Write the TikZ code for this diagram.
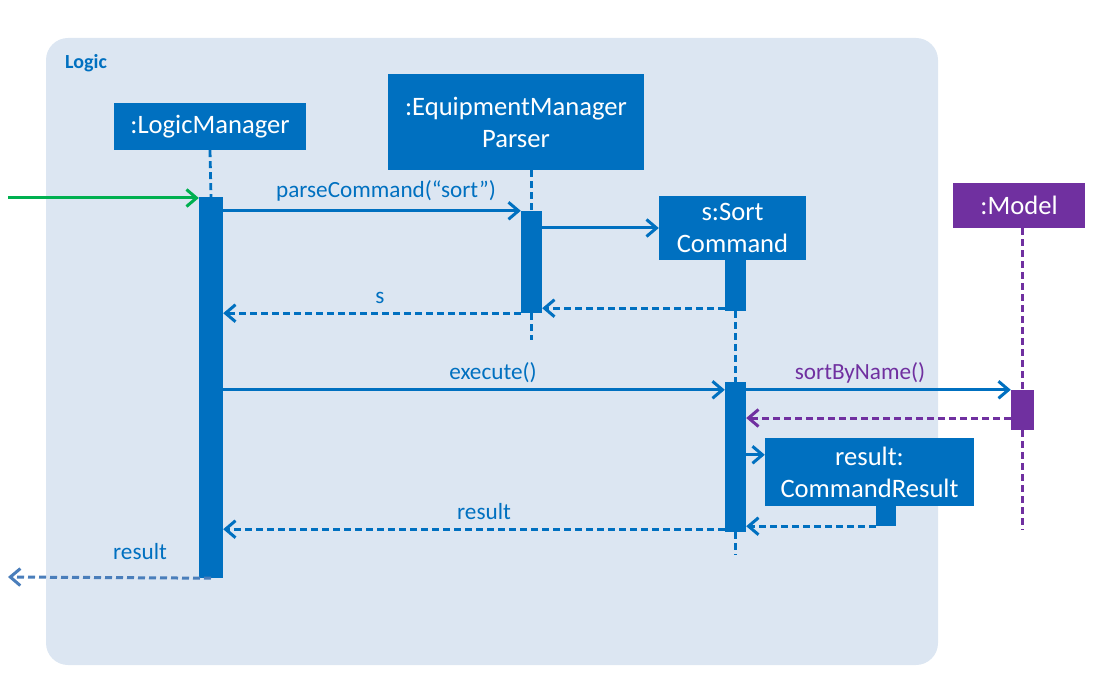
\documentclass[tikz,border=0pt]{standalone}
\usepackage{fontspec}
\setmainfont{Carlito}
\usetikzlibrary{arrows.meta}
\definecolor{ublue}{HTML}{0070C0}
\definecolor{upurple}{HTML}{7030A0}
\definecolor{ubg}{HTML}{DCE6F2}
\definecolor{ugreen}{HTML}{00B050}
\definecolor{ulight}{HTML}{4A7EBB}
\tikzset{
  objbox/.style={fill=ublue, draw=none, text=white, align=center, inner sep=0pt,
     font=\fontsize{26.6}{32}\selectfont},
  actbar/.style={fill=ublue, draw=none, inner sep=0pt, minimum width=21pt},
  lifeln/.style={draw=ublue, line width=2.8pt, dash pattern=on 7pt off 4pt},
  msg/.style={draw=ublue, line width=3pt, -{Straight Barb[length=10pt,width=17pt,line width=3pt]}},
  ret/.style={msg, dash pattern=on 7pt off 4pt},
  lbl/.style={text=ublue, font=\fontsize{23.2}{26}\selectfont, inner sep=0pt},
}
\begin{document}
\begin{tikzpicture}[x=1pt,y=-1pt]
\useasboundingbox (0,0) rectangle (1096,695);
% background frame
\fill[ubg, rounded corners=22pt] (46,38) rectangle (938,665);
\node[anchor=west, text=ublue, font=\fontsize{20}{22}\selectfont\bfseries, inner sep=0pt] (logic) at (65,63) {Logic};

% objects
\node[objbox, minimum width=192pt, minimum height=47pt] (lm) at (210,126.5) {:LogicManager};
\node[objbox, minimum width=256pt, minimum height=96pt] (emp) at (516,122) {:EquipmentManager\\Parser};
\node[objbox, minimum width=147pt, minimum height=64pt] (sc) at (732.5,228) {s:Sort\\Command};
\node[objbox, fill=upurple, minimum width=132pt, minimum height=45pt] (model) at (1019,205.5) {:Model};
\node[objbox, minimum width=209pt, minimum height=68pt] (cr) at (869.5,472) {result:\\CommandResult};

% activation bars
\node[actbar, minimum width=24pt, minimum height=381pt] (lmact) at (211,387.5) {};
\node[actbar, minimum height=102pt] (empact) at (531.5,262) {};
\node[actbar, minimum height=51pt] (scact1) at (735.5,285.5) {};
\node[actbar, minimum height=150pt] (scact2) at (735.5,457) {};
\node[actbar, fill=upurple, minimum width=23pt, minimum height=40pt] (mact) at (1022.5,410) {};
\node[actbar, minimum width=20pt, minimum height=20pt] (cract) at (886,516) {};

% lifelines
\coordinate (empend) at (531.5,340);
\coordinate (scend) at (735.5,555);
\coordinate (mend) at (1022.5,530);
\draw[lifeln] (lm.south) -- (lmact.north);
\draw[lifeln] (empact.north |- emp.south) -- (empact.north);
\draw[lifeln] (empact.south) -- (empend);
\draw[lifeln] (scact1.south) -- (scact2.north);
\draw[lifeln] (scact2.south) -- (scend);
\draw[lifeln, draw=upurple] (mact.north |- model.south) -- (mact.north);
\draw[lifeln, draw=upurple] (mact.south) -- (mend);

% messages
\coordinate (start) at (8,198);
\draw[msg, draw=ugreen] (start) -- (lmact.west |- start);

\draw[msg] (lmact.east |- empact.north) -- (empact.north west);
\node[lbl] (l1) at (386,191) {parseCommand(“sort”)};

\draw[msg] (empact.east |- sc.west) -- (sc.west);

\coordinate (r1) at ([yshift=3pt]scact1.south west);
\draw[ret] (r1) -- (empact.east |- r1);

\draw[ret] (empact.south west) -- (lmact.east |- empact.south);
\node[lbl] (l2) at (380,298) {s};

\draw[msg] (lmact.east |- mact.north) -- (scact2.west |- mact.north);
\node[lbl] (l3) at (493,373) {execute()};

\draw[msg] (scact2.east |- mact.north) -- (mact.north west);
\node[lbl, text=upurple] (l4) at (860,373) {sortByName()};

\coordinate (r2) at ([yshift=-8pt]mact.west);
\draw[ret, draw=upurple] (r2) -- (scact2.east |- r2);

\coordinate (crin) at ([yshift=-17pt]cr.north west);
\draw[msg] (scact2.east |- crin) -- (crin);

\draw[ret] (cract.south west) -- (scact2.east |- cract.south);

\coordinate (r3) at ([yshift=3pt]scact2.south west);
\draw[ret] (r3) -- (lmact.east |- r3);
\node[lbl] (l5) at (484,512) {result};

\coordinate (endpt) at (8,577);
\draw[ret, draw=ulight] (lmact.south) -- (endpt);
\node[lbl] (l6) at (140,552) {result};
\end{tikzpicture}
\end{document}
